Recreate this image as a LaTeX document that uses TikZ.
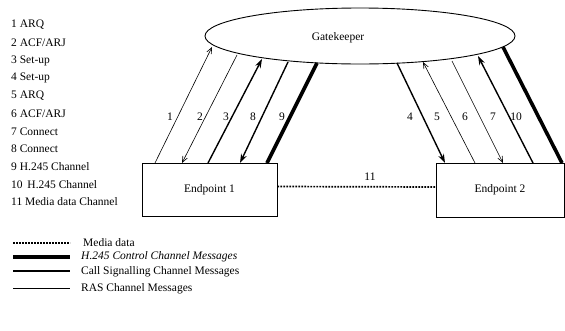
\documentclass[tikz,border=0pt]{standalone}
\usepackage{fontspec}
\setmainfont{Liberation Serif}
\usetikzlibrary{arrows.meta,shapes.geometric}
\begin{document}
\begin{tikzpicture}[x=1pt,y=-1pt,
  every node/.style={font=\fontsize{11.5}{13}\selectfont, inner sep=0pt},
  ras/.style={line width=0.6pt},
  csig/.style={line width=1.4pt},
  hctl/.style={line width=3.6pt},
  media/.style={line width=1.7pt, dash pattern=on 1.6pt off 1.4pt},
  thinhead/.style={-{Straight Barb[length=6pt,width=5pt,line width=0.6pt]}},
  boldhead/.style={-{Stealth[length=9pt,width=6pt]}},
  lbl/.style={anchor=center},
  item/.style={anchor=west}
]
\useasboundingbox (0,0) rectangle (565,330);

% Gatekeeper
\node[draw, ellipse, line width=0.9pt, minimum width=310pt, minimum height=56pt] (gk) at (360,36) {};
\node (gktext) at (338,38) {Gatekeeper};

% Endpoints
\node[draw, line width=0.9pt, minimum width=135pt, minimum height=53pt] (ep1) at (209.5,189.5) {Endpoint 1};
\node[draw, line width=0.9pt, minimum width=128pt, minimum height=54pt] (ep2) at (500,190) {Endpoint 2};

% connector ends
\coordinate (b1) at (155,163);  \coordinate (t1) at (212,47);
\coordinate (t2) at (237,55);   \coordinate (b2) at (182,163);
\coordinate (b3) at (208,163);  \coordinate (t3) at (262,59);
\coordinate (t8) at (288,62);   \coordinate (b8) at (240,163);
\coordinate (t9) at (317,63);   \coordinate (b9) at (267,163);
\coordinate (t4) at (397,63);   \coordinate (b4) at (445,163);
\coordinate (b5) at (475,163);  \coordinate (t5) at (423,62);
\coordinate (t6) at (452,61);   \coordinate (b6) at (503,163);
\coordinate (b7) at (533,163);  \coordinate (t7) at (478,56);
\coordinate (t10) at (503,47);  \coordinate (b10) at (562,163);

\draw[ras, thinhead] (b1) -- (t1);
\draw[ras, thinhead] (t2) -- (b2);
\draw[csig, boldhead] (b3) -- (t3);
\draw[csig, boldhead] (t8) -- (b8);
\draw[hctl] (t9) -- (b9);
\draw[csig, boldhead] (t4) -- (b4);
\draw[ras, thinhead] (b5) -- (t5);
\draw[ras, thinhead] (t6) -- (b6);
\draw[csig, boldhead] (b7) -- (t7);
\draw[hctl] (t10) -- (b10);

% media channel
\draw[media] ([yshift=3pt]ep1.east) -- ([yshift=3pt]ep2.west);

% line labels
\node[lbl] (l1) at (170,117) {1};
\node[lbl] (l2) at (200,117) {2};
\node[lbl] (l3) at (226,117) {3};
\node[lbl] (l8) at (253,117) {8};
\node[lbl] (l9) at (282,117) {9};
\node[lbl] (l4) at (410,117) {4};
\node[lbl] (l5) at (437,117) {5};
\node[lbl] (l6) at (465,117) {6};
\node[lbl] (l7) at (493,117) {7};
\node[lbl] (l10) at (516,117) {10};
\node[lbl] (l11) at (370,177) {11};

% numbered list
\node[item] (i1) at (11,25) {1 ARQ};
\node[item] (i2) at (11,43) {2 ACF/ARJ};
\node[item] (i3) at (11,60.5) {3 Set-up};
\node[item] (i4) at (11,78) {4 Set-up};
\node[item] (i5) at (11,96) {5 ARQ};
\node[item] (i6) at (11,114) {6 ACF/ARJ};
\node[item] (i7) at (11,131.5) {7 Connect};
\node[item] (i8) at (11,149) {8 Connect};
\node[item] (i9) at (11,167) {9 H.245 Channel};
\node[item] (i10) at (11,184.5) {10 \,H.245 Channel};
\node[item] (i11) at (11,202) {11 Media data Channel};

% legend
\draw[media] (13,243) -- (70,243);
\draw[hctl] (13,257) -- (70,257);
\draw[csig] (13,271) -- (70,271);
\draw[ras] (13,288) -- (70,288);
\node[item] (k1) at (83,243) {Media data};
\node[item] (k2) at (81,257) {\itshape H.245 Control Channel Messages};
\node[item] (k3) at (81,272) {Call Signalling Channel Messages};
\node[item] (k4) at (81,289) {RAS Channel Messages};
\end{tikzpicture}
\end{document}
